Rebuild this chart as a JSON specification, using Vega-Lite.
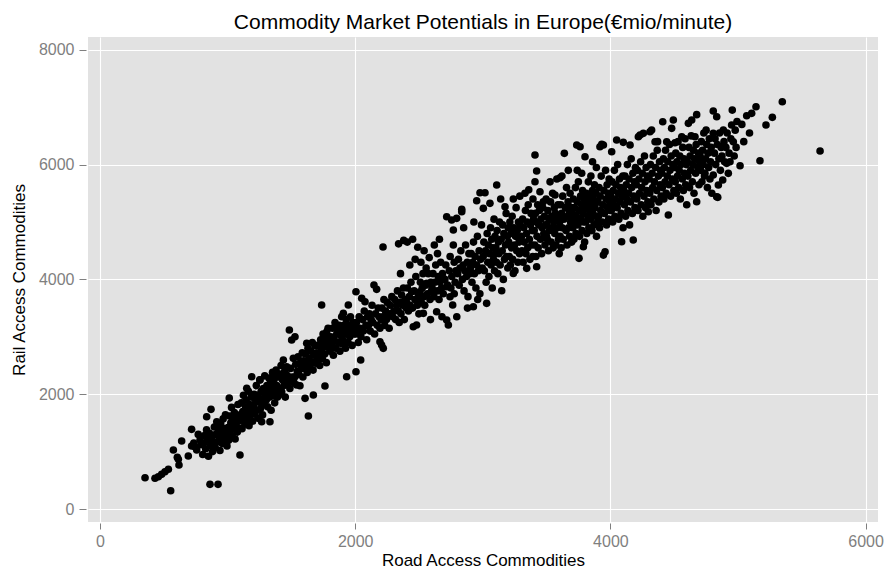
{
  "$schema": "https://vega.github.io/schema/vega-lite/v6.json",
  "width": 790,
  "height": 485,
  "autosize": {"type": "none"},
  "padding": {"left": 88, "top": 37, "right": 6, "bottom": 48},
  "background": "white",
  "config": {
    "view": {"fill": "#E2E2E2", "stroke": null},
    "font": "Liberation Sans"
  },
  "title": {
    "text": "Commodity Market Potentials in Europe(€mio/minute)",
    "fontSize": 21,
    "fontWeight": "normal",
    "color": "black",
    "anchor": "middle",
    "baseline": "bottom",
    "offset": 4,
    "dy": 21
  },
  "data": {
    "values": [
      {"road":353,"rail":545},{"road":431,"rail":535},{"road":457,"rail":563},{"road":483,"rail":604},{"road":509,"rail":650},{"road":536,"rail":692},{"road":554,"rail":319},{"road":619,"rail":766},{"road":614,"rail":866},{"road":606,"rail":901},{"road":575,"rail":1028},{"road":692,"rail":923},{"road":640,"rail":1185},{"road":718,"rail":1388},{"road":718,"rail":1097},{"road":758,"rail":1028},{"road":784,"rail":1202},{"road":862,"rail":430},{"road":925,"rail":430},{"road":1097,"rail":941},{"road":836,"rail":1608},{"road":870,"rail":1737},{"road":1013,"rail":1934},{"road":1332,"rail":1521},{"road":1267,"rail":1521},{"road":735,"rail":1150},{"road":770,"rail":1300},{"road":745,"rail":1080},{"road":790,"rail":1120},{"road":1150,"rail":2102},{"road":1189,"rail":2305},{"road":1254,"rail":2247},{"road":1356,"rail":2305},
      {"road":805,"rail":950},{"road":812,"rail":1150},{"road":820,"rail":1280},{"road":828,"rail":1050},{"road":835,"rail":1380},{"road":843,"rail":1200},{"road":850,"rail":920},{"road":858,"rail":1320},{"road":866,"rail":1100},{"road":874,"rail":1230},{"road":882,"rail":1000},{"road":890,"rail":1160},{"road":896,"rail":1430},
      {"road":903,"rail":1070},{"road":908,"rail":1300},{"road":915,"rail":1520},{"road":921,"rail":1170},{"road":927,"rail":1400},{"road":934,"rail":1250},{"road":940,"rail":1020},{"road":946,"rail":1480},{"road":952,"rail":1320},{"road":958,"rail":1140},{"road":965,"rail":1570},{"road":971,"rail":1400},{"road":977,"rail":1220},{"road":983,"rail":1640},{"road":989,"rail":1300},{"road":995,"rail":1100},
      {"road":1003,"rail":1420},{"road":1008,"rail":1200},{"road":1014,"rail":1620},{"road":1020,"rail":1340},{"road":1025,"rail":1500},{"road":1031,"rail":1770},{"road":1036,"rail":1270},{"road":1042,"rail":1560},{"road":1048,"rail":1400},{"road":1053,"rail":1680},{"road":1059,"rail":1220},{"road":1064,"rail":1470},{"road":1070,"rail":1600},{"road":1076,"rail":1340},{"road":1081,"rail":1820},{"road":1087,"rail":1530},{"road":1092,"rail":1400},{"road":1098,"rail":1640},
      {"road":1103,"rail":1560},{"road":1108,"rail":1850},{"road":1113,"rail":1400},{"road":1119,"rail":1700},{"road":1124,"rail":1980},{"road":1130,"rail":1620},{"road":1135,"rail":1480},{"road":1141,"rail":1780},{"road":1146,"rail":1900},{"road":1152,"rail":1560},{"road":1157,"rail":1690},{"road":1163,"rail":2050},{"road":1168,"rail":1450},{"road":1174,"rail":1820},{"road":1179,"rail":1640},{"road":1185,"rail":1950},{"road":1190,"rail":1720},{"road":1196,"rail":1530},
      {"road":1203,"rail":1800},{"road":1208,"rail":2000},{"road":1214,"rail":1650},{"road":1219,"rail":1900},{"road":1225,"rail":2150},{"road":1230,"rail":1720},{"road":1236,"rail":1980},{"road":1241,"rail":1580},{"road":1247,"rail":1860},{"road":1252,"rail":2250},{"road":1258,"rail":1750},{"road":1263,"rail":2050},{"road":1269,"rail":1920},{"road":1274,"rail":1640},{"road":1280,"rail":2100},{"road":1285,"rail":1830},{"road":1291,"rail":2320},{"road":1296,"rail":1980},
      {"road":1303,"rail":1900},{"road":1308,"rail":2150},{"road":1314,"rail":1780},{"road":1319,"rail":2050},{"road":1325,"rail":2280},{"road":1330,"rail":1950},{"road":1336,"rail":2200},{"road":1341,"rail":1720},{"road":1347,"rail":2100},{"road":1352,"rail":2380},{"road":1358,"rail":1980},{"road":1363,"rail":2250},{"road":1369,"rail":1850},{"road":1374,"rail":2050},{"road":1380,"rail":2420},{"road":1385,"rail":2150},{"road":1391,"rail":1950},{"road":1396,"rail":2300},
      {"road":1403,"rail":2100},{"road":1408,"rail":2350},{"road":1414,"rail":2000},{"road":1419,"rail":2500},{"road":1424,"rail":2044},{"road":1430,"rail":2250},{"road":1437,"rail":2596},{"road":1437,"rail":2247},{"road":1441,"rail":2150},{"road":1447,"rail":2400},{"road":1452,"rail":1950},{"road":1458,"rail":2300},{"road":1463,"rail":2479},{"road":1463,"rail":2334},{"road":1470,"rail":2200},{"road":1476,"rail":2305},{"road":1484,"rail":3118},{"road":1488,"rail":2100},{"road":1493,"rail":2450},{"road":1497,"rail":2250},
      {"road":1502,"rail":2944},{"road":1506,"rail":2300},{"road":1515,"rail":2625},{"road":1521,"rail":2200},{"road":1528,"rail":2305},{"road":1528,"rail":3002},{"road":1534,"rail":2520},{"road":1541,"rail":2160},{"road":1546,"rail":2400},{"road":1552,"rail":2650},{"road":1558,"rail":2350},{"road":1567,"rail":2148},{"road":1572,"rail":2550},{"road":1578,"rail":2450},{"road":1585,"rail":2720},{"road":1590,"rail":2300},{"road":1596,"rail":2580},
      {"road":1607,"rail":1928},{"road":1620,"rail":2886},{"road":1633,"rail":1620},{"road":1672,"rail":1986},{"road":1603,"rail":2450},{"road":1611,"rail":2700},{"road":1617,"rail":2550},{"road":1624,"rail":2380},{"road":1630,"rail":2800},{"road":1638,"rail":2620},{"road":1645,"rail":2480},{"road":1651,"rail":2750},{"road":1658,"rail":2560},{"road":1664,"rail":2900},{"road":1670,"rail":2420},{"road":1677,"rail":2680},{"road":1684,"rail":2850},{"road":1690,"rail":2540},{"road":1697,"rail":2720},
      {"road":1737,"rail":3554},{"road":1777,"rail":3089},{"road":1750,"rail":2944},{"road":1763,"rail":2143},{"road":1703,"rail":2600},{"road":1709,"rail":2850},{"road":1716,"rail":2700},{"road":1722,"rail":2500},{"road":1729,"rail":2950},{"road":1735,"rail":2780},{"road":1742,"rail":2620},{"road":1748,"rail":3050},{"road":1755,"rail":2850},{"road":1761,"rail":2700},{"road":1768,"rail":2980},{"road":1774,"rail":2550},{"road":1781,"rail":2820},{"road":1787,"rail":3150},{"road":1794,"rail":2900},
      {"road":1860,"rail":3148},{"road":1894,"rail":3350},{"road":1803,"rail":2750},{"road":1809,"rail":3000},{"road":1816,"rail":2850},{"road":1822,"rail":3150},{"road":1829,"rail":2680},{"road":1835,"rail":2950},{"road":1842,"rail":3250},{"road":1848,"rail":2800},{"road":1855,"rail":3050},{"road":1867,"rail":2900},{"road":1874,"rail":3200},{"road":1880,"rail":2750},{"road":1887,"rail":3020},{"road":1893,"rail":2880},{"road":1899,"rail":3100},
      {"road":1907,"rail":3409},{"road":1946,"rail":3554},{"road":1933,"rail":2305},{"road":1903,"rail":2950},{"road":1911,"rail":3200},{"road":1918,"rail":3050},{"road":1924,"rail":2800},{"road":1930,"rail":3300},{"road":1937,"rail":3100},{"road":1944,"rail":2900},{"road":1950,"rail":3200},{"road":1957,"rail":3000},{"road":1963,"rail":3350},{"road":1970,"rail":3120},{"road":1976,"rail":2850},{"road":1983,"rail":3250},{"road":1989,"rail":3050},{"road":1996,"rail":3180},
      {"road":2006,"rail":3786},{"road":2051,"rail":3670},{"road":2077,"rail":3612},{"road":2006,"rail":2392},{"road":2043,"rail":2596},{"road":2003,"rail":3050},{"road":2010,"rail":3250},{"road":2017,"rail":3100},{"road":2024,"rail":2900},{"road":2031,"rail":3350},{"road":2038,"rail":3150},{"road":2045,"rail":3000},{"road":2058,"rail":3300},{"road":2064,"rail":3100},{"road":2071,"rail":3450},{"road":2084,"rail":3200},{"road":2090,"rail":2950},{"road":2097,"rail":3350},
      {"road":2147,"rail":3902},{"road":2168,"rail":3827},{"road":2104,"rail":3200},{"road":2111,"rail":3400},{"road":2118,"rail":3100},{"road":2125,"rail":3300},{"road":2132,"rail":3550},{"road":2139,"rail":3250},{"road":2152,"rail":3050},{"road":2159,"rail":3400},{"road":2173,"rail":3200},{"road":2180,"rail":3500},{"road":2187,"rail":3350},{"road":2194,"rail":2915},{"road":2194,"rail":3150},
      {"road":2207,"rail":2857},{"road":2220,"rail":2799},{"road":2218,"rail":4564},{"road":2203,"rail":3300},{"road":2210,"rail":3500},{"road":2216,"rail":3350},{"road":2225,"rail":3650},{"road":2231,"rail":3200},{"road":2238,"rail":3450},{"road":2245,"rail":3300},{"road":2252,"rail":3600},{"road":2259,"rail":3400},{"road":2266,"rail":3150},{"road":2273,"rail":3550},{"road":2280,"rail":3400},{"road":2287,"rail":3700},{"road":2294,"rail":3350},
      {"road":2364,"rail":3728},{"road":2303,"rail":3450},{"road":2310,"rail":3650},{"road":2317,"rail":3300},{"road":2324,"rail":3550},{"road":2331,"rail":3800},{"road":2338,"rail":3450},{"road":2345,"rail":3250},{"road":2352,"rail":3600},{"road":2359,"rail":3400},{"road":2371,"rail":3550},{"road":2378,"rail":3850},{"road":2385,"rail":3300},{"road":2392,"rail":3650},{"road":2399,"rail":3500},{"road":2340,"rail":4620},{"road":2380,"rail":4680},{"road":2355,"rail":4100},
      {"road":2443,"rail":3786},{"road":2455,"rail":3176},{"road":2481,"rail":3205},{"road":2408,"rail":4650},{"road":2450,"rail":4700},{"road":2490,"rail":4560},{"road":2403,"rail":3600},{"road":2410,"rail":3850},{"road":2417,"rail":3450},{"road":2424,"rail":3700},{"road":2431,"rail":3550},{"road":2437,"rail":3950},{"road":2449,"rail":3500},{"road":2462,"rail":3800},{"road":2468,"rail":3650},{"road":2475,"rail":4050},{"road":2487,"rail":3550},{"road":2494,"rail":3750},{"road":2499,"rail":3400},{"road":2428,"rail":4250},{"road":2470,"rail":4350},
      {"road":2508,"rail":3786},{"road":2534,"rail":3409},{"road":2560,"rail":3932},{"road":2515,"rail":4300},{"road":2540,"rail":4500},{"road":2580,"rail":4380},{"road":2503,"rail":3700},{"road":2511,"rail":3950},{"road":2518,"rail":3600},{"road":2525,"rail":3850},{"road":2531,"rail":4100},{"road":2538,"rail":3700},{"road":2545,"rail":3550},{"road":2552,"rail":3900},{"road":2566,"rail":3750},{"road":2573,"rail":4100},{"road":2586,"rail":3650},{"road":2593,"rail":3950},{"road":2599,"rail":3800},{"road":2590,"rail":3300},{"road":2556,"rail":4200},
      {"road":2638,"rail":3437},{"road":2603,"rail":3850},{"road":2610,"rail":4100},{"road":2617,"rail":3700},{"road":2624,"rail":3950},{"road":2631,"rail":4250},{"road":2644,"rail":3800},{"road":2651,"rail":4050},{"road":2657,"rail":3650},{"road":2664,"rail":3950},{"road":2670,"rail":4300},{"road":2677,"rail":3850},{"road":2684,"rail":4100},{"road":2690,"rail":3750},{"road":2697,"rail":4000},{"road":2620,"rail":4600},{"road":2660,"rail":4700},{"road":2680,"rail":3350},{"road":2645,"rail":4450},
      {"road":2717,"rail":3292},{"road":2730,"rail":3205},{"road":2764,"rail":3554},{"road":2796,"rail":3350},{"road":2717,"rail":3873},{"road":2717,"rail":5092},{"road":2756,"rail":5034},{"road":2769,"rail":4860},{"road":2795,"rail":5064},{"road":2703,"rail":4000},{"road":2710,"rail":4250},{"road":2724,"rail":3900},{"road":2737,"rail":4150},{"road":2744,"rail":4400},{"road":2750,"rail":3850},{"road":2757,"rail":4050},{"road":2776,"rail":4300},{"road":2783,"rail":3950},{"road":2789,"rail":4150},{"road":2776,"rail":3750},{"road":2743,"rail":3698},{"road":2769,"rail":4600},
      {"road":2835,"rail":5179},{"road":2835,"rail":5221},{"road":2803,"rail":4100},{"road":2809,"rail":4350},{"road":2815,"rail":3900},{"road":2821,"rail":4200},{"road":2828,"rail":4500},{"road":2840,"rail":4000},{"road":2846,"rail":4250},{"road":2853,"rail":3800},{"road":2859,"rail":4150},{"road":2865,"rail":4600},{"road":2872,"rail":4050},{"road":2878,"rail":4300},{"road":2884,"rail":3700},{"road":2891,"rail":4450},{"road":2897,"rail":4100},{"road":2850,"rail":4900},{"road":2880,"rail":3500},
      {"road":2903,"rail":4200},{"road":2909,"rail":4450},{"road":2915,"rail":3950},{"road":2921,"rail":4300},{"road":2926,"rail":3524},{"road":2927,"rail":4650},{"road":2934,"rail":4100},{"road":2940,"rail":4400},{"road":2946,"rail":3850},{"road":2952,"rail":5371},{"road":2952,"rail":4250},{"road":2958,"rail":4750},{"road":2965,"rail":4150},{"road":2971,"rail":4500},{"road":2977,"rail":3750},{"road":2978,"rail":5510},{"road":2983,"rail":4350},{"road":2990,"rail":4950},{"road":2996,"rail":4200},{"road":2930,"rail":5000},{"road":2960,"rail":3650},
      {"road":3017,"rail":5510},{"road":3004,"rail":5238},{"road":3030,"rail":3583},{"road":3056,"rail":5325},{"road":3003,"rail":4400},{"road":3008,"rail":4650},{"road":3012,"rail":4150},{"road":3021,"rail":4500},{"road":3026,"rail":3950},{"road":3034,"rail":4800},{"road":3039,"rail":4300},{"road":3043,"rail":4600},{"road":3048,"rail":4050},{"road":3052,"rail":4450},{"road":3061,"rail":4900},{"road":3065,"rail":4250},{"road":3070,"rail":4700},{"road":3074,"rail":3850},{"road":3079,"rail":4550},{"road":3083,"rail":4350},{"road":3088,"rail":5050},{"road":3092,"rail":4150},{"road":3096,"rail":4750},{"road":3099,"rail":4450},
      {"road":3109,"rail":5644},{"road":3140,"rail":5400},{"road":3148,"rail":3803},{"road":3174,"rail":5266},{"road":3103,"rail":4550},{"road":3107,"rail":4300},{"road":3112,"rail":4850},{"road":3118,"rail":4100},{"road":3122,"rail":4650},{"road":3127,"rail":4450},{"road":3131,"rail":5000},{"road":3136,"rail":4250},{"road":3144,"rail":4700},{"road":3152,"rail":4500},{"road":3156,"rail":4950},{"road":3161,"rail":4000},{"road":3165,"rail":4800},{"road":3170,"rail":4350},{"road":3178,"rail":4600},{"road":3183,"rail":5150},{"road":3187,"rail":4400},{"road":3192,"rail":4750},{"road":3196,"rail":4200},{"road":3199,"rail":4900},
      {"road":3239,"rail":5400},{"road":3239,"rail":4105},{"road":3290,"rail":5450},{"road":3203,"rail":4650},{"road":3207,"rail":4400},{"road":3212,"rail":5000},{"road":3216,"rail":4250},{"road":3221,"rail":4800},{"road":3225,"rail":4550},{"road":3230,"rail":5100},{"road":3234,"rail":4350},{"road":3243,"rail":4900},{"road":3248,"rail":4600},{"road":3252,"rail":4150},{"road":3257,"rail":4750},{"road":3261,"rail":5250},{"road":3266,"rail":4500},{"road":3270,"rail":4850},{"road":3275,"rail":4300},{"road":3279,"rail":5000},{"road":3284,"rail":4650},{"road":3288,"rail":4450},{"road":3293,"rail":4950},{"road":3297,"rail":4700},
      {"road":3344,"rail":4193},{"road":3393,"rail":5400},{"road":3330,"rail":5500},{"road":3360,"rail":5560},{"road":3303,"rail":4750},{"road":3307,"rail":4500},{"road":3312,"rail":5050},{"road":3316,"rail":4300},{"road":3321,"rail":4900},{"road":3325,"rail":4650},{"road":3334,"rail":5200},{"road":3338,"rail":4450},{"road":3343,"rail":4800},{"road":3347,"rail":5000},{"road":3352,"rail":4550},{"road":3356,"rail":5300},{"road":3365,"rail":4700},{"road":3369,"rail":4350},{"road":3374,"rail":4950},{"road":3378,"rail":5150},{"road":3383,"rail":4600},{"road":3387,"rail":4850},{"road":3392,"rail":4400},{"road":3397,"rail":5050},
      {"road":3409,"rail":6167},{"road":3422,"rail":5888},{"road":3409,"rail":5702},{"road":3422,"rail":4221},{"road":3448,"rail":5527},{"road":3474,"rail":5353},{"road":3403,"rail":4850},{"road":3407,"rail":4600},{"road":3412,"rail":5150},{"road":3416,"rail":4400},{"road":3421,"rail":5000},{"road":3425,"rail":4750},{"road":3430,"rail":5300},{"road":3434,"rail":4550},{"road":3439,"rail":4950},{"road":3443,"rail":5200},{"road":3452,"rail":4700},{"road":3456,"rail":5050},{"road":3461,"rail":4450},{"road":3465,"rail":4900},{"road":3470,"rail":5250},{"road":3478,"rail":4800},{"road":3483,"rail":5100},{"road":3487,"rail":4600},{"road":3492,"rail":4950},{"road":3496,"rail":5400},{"road":3499,"rail":4750},
      {"road":3527,"rail":5700},{"road":3566,"rail":5470},{"road":3580,"rail":5750},{"road":3605,"rail":5770},{"road":3503,"rail":4950},{"road":3506,"rail":4700},{"road":3510,"rail":5200},{"road":3514,"rail":4500},{"road":3518,"rail":5050},{"road":3522,"rail":4850},{"road":3531,"rail":5350},{"road":3535,"rail":4650},{"road":3539,"rail":5100},{"road":3543,"rail":4900},{"road":3547,"rail":5500},{"road":3551,"rail":4550},{"road":3556,"rail":5000},{"road":3560,"rail":5250},{"road":3564,"rail":4800},{"road":3569,"rail":5150},{"road":3573,"rail":4600},{"road":3577,"rail":5050},{"road":3585,"rail":4900},{"road":3589,"rail":5300},{"road":3593,"rail":4700},{"road":3597,"rail":5100},{"road":3599,"rail":4450},
      {"road":3639,"rail":6196},{"road":3602,"rail":5000},{"road":3606,"rail":4750},{"road":3610,"rail":5300},{"road":3614,"rail":4550},{"road":3618,"rail":5150},{"road":3622,"rail":4900},{"road":3626,"rail":5450},{"road":3630,"rail":4700},{"road":3635,"rail":5050},{"road":3648,"rail":5250},{"road":3652,"rail":4850},{"road":3656,"rail":5600},{"road":3660,"rail":4600},{"road":3664,"rail":5100},{"road":3668,"rail":5350},{"road":3672,"rail":4900},{"road":3676,"rail":5200},{"road":3680,"rail":4750},{"road":3684,"rail":5500},{"road":3688,"rail":5000},{"road":3692,"rail":5250},{"road":3696,"rail":4650},{"road":3699,"rail":5100},{"road":3620,"rail":5800},{"road":3670,"rail":5900},
      {"road":3736,"rail":6341},{"road":3762,"rail":6312},{"road":3754,"rail":4367},{"road":3788,"rail":4570},{"road":3801,"rail":6137},{"road":3702,"rail":5150},{"road":3706,"rail":4900},{"road":3710,"rail":5400},{"road":3714,"rail":4700},{"road":3718,"rail":5250},{"road":3722,"rail":5000},{"road":3726,"rail":5600},{"road":3730,"rail":4800},{"road":3734,"rail":5100},{"road":3741,"rail":5350},{"road":3745,"rail":4950},{"road":3749,"rail":5700},{"road":3753,"rail":5200},{"road":3758,"rail":4750},{"road":3766,"rail":5450},{"road":3770,"rail":5050},{"road":3774,"rail":5300},{"road":3778,"rail":4850},{"road":3782,"rail":5550},{"road":3786,"rail":5150},{"road":3790,"rail":5000},{"road":3794,"rail":5400},{"road":3798,"rail":4650},{"road":3740,"rail":5900},{"road":3775,"rail":5850},
      {"road":3803,"rail":5250},{"road":3807,"rail":5000},{"road":3811,"rail":5500},{"road":3815,"rail":4800},{"road":3819,"rail":5350},{"road":3823,"rail":5100},{"road":3827,"rail":5700},{"road":3831,"rail":4900},{"road":3835,"rail":5200},{"road":3839,"rail":5450},{"road":3843,"rail":5050},{"road":3847,"rail":5800},{"road":3851,"rail":5300},{"road":3855,"rail":4850},{"road":3859,"rail":5550},{"road":3863,"rail":5150},{"road":3867,"rail":5400},{"road":3871,"rail":4950},{"road":3875,"rail":5650},{"road":3879,"rail":5250},{"road":3883,"rail":5100},{"road":3887,"rail":5500},{"road":3891,"rail":4750},{"road":3895,"rail":5350},{"road":3899,"rail":5000},{"road":3860,"rail":6050},{"road":3890,"rail":5950},
      {"road":3918,"rail":6312},{"road":3945,"rail":6341},{"road":3932,"rail":6352},{"road":3958,"rail":4482},{"road":3945,"rail":4424},{"road":3903,"rail":5350},{"road":3907,"rail":5100},{"road":3911,"rail":5600},{"road":3915,"rail":4900},{"road":3920,"rail":5450},{"road":3924,"rail":5200},{"road":3928,"rail":5800},{"road":3936,"rail":5000},{"road":3940,"rail":5300},{"road":3949,"rail":5550},{"road":3953,"rail":5150},{"road":3962,"rail":5900},{"road":3966,"rail":5400},{"road":3970,"rail":4950},{"road":3974,"rail":5650},{"road":3978,"rail":5250},{"road":3982,"rail":5500},{"road":3986,"rail":5050},{"road":3990,"rail":5750},{"road":3994,"rail":5350},{"road":3998,"rail":5200},
      {"road":4010,"rail":6224},{"road":4049,"rail":6428},{"road":4088,"rail":4657},{"road":4003,"rail":5450},{"road":4007,"rail":5200},{"road":4013,"rail":5700},{"road":4018,"rail":5000},{"road":4022,"rail":5550},{"road":4026,"rail":5300},{"road":4031,"rail":5900},{"road":4035,"rail":5100},{"road":4040,"rail":5400},{"road":4044,"rail":5650},{"road":4053,"rail":5250},{"road":4057,"rail":6000},{"road":4062,"rail":5500},{"road":4066,"rail":5050},{"road":4071,"rail":5750},{"road":4075,"rail":5350},{"road":4080,"rail":5600},{"road":4084,"rail":5150},{"road":4093,"rail":5450},{"road":4097,"rail":5800},{"road":4099,"rail":4900},
      {"road":4101,"rail":6388},{"road":4154,"rail":6341},{"road":4179,"rail":4686},{"road":4105,"rail":5550},{"road":4110,"rail":5300},{"road":4114,"rail":5800},{"road":4119,"rail":5100},{"road":4124,"rail":5650},{"road":4128,"rail":5400},{"road":4133,"rail":6000},{"road":4137,"rail":5200},{"road":4142,"rail":5500},{"road":4146,"rail":5750},{"road":4150,"rail":4950},{"road":4158,"rail":5350},{"road":4163,"rail":6100},{"road":4167,"rail":5600},{"road":4172,"rail":5150},{"road":4176,"rail":5850},{"road":4183,"rail":5450},{"road":4188,"rail":5700},{"road":4192,"rail":5250},{"road":4196,"rail":5950},
      {"road":4219,"rail":6485},{"road":4258,"rail":6545},{"road":4232,"rail":6515},{"road":4297,"rail":5179},{"road":4203,"rail":5650},{"road":4207,"rail":5400},{"road":4212,"rail":5900},{"road":4216,"rail":5200},{"road":4224,"rail":5750},{"road":4228,"rail":5500},{"road":4237,"rail":6050},{"road":4241,"rail":5300},{"road":4245,"rail":5600},{"road":4250,"rail":5850},{"road":4254,"rail":5100},{"road":4263,"rail":5450},{"road":4267,"rail":6150},{"road":4271,"rail":5700},{"road":4276,"rail":5250},{"road":4280,"rail":5950},{"road":4285,"rail":5550},{"road":4289,"rail":5800},{"road":4293,"rail":5350},
      {"road":4310,"rail":6573},{"road":4323,"rail":6602},{"road":4350,"rail":6398},{"road":4370,"rail":6400},{"road":4304,"rail":5750},{"road":4308,"rail":5500},{"road":4314,"rail":6000},{"road":4318,"rail":5300},{"road":4327,"rail":5850},{"road":4331,"rail":5600},{"road":4336,"rail":6150},{"road":4340,"rail":5400},{"road":4345,"rail":5700},{"road":4354,"rail":5950},{"road":4358,"rail":5200},{"road":4363,"rail":5550},{"road":4367,"rail":6250},{"road":4376,"rail":5800},{"road":4380,"rail":5350},{"road":4385,"rail":6050},{"road":4389,"rail":5650},{"road":4393,"rail":5900},{"road":4397,"rail":5450},
      {"road":4410,"rail":6747},{"road":4441,"rail":6398},{"road":4454,"rail":5121},{"road":4480,"rail":6632},{"road":4493,"rail":6776},{"road":4506,"rail":6380},{"road":4403,"rail":5850},{"road":4407,"rail":5600},{"road":4415,"rail":6100},{"road":4419,"rail":5400},{"road":4423,"rail":5950},{"road":4428,"rail":5700},{"road":4432,"rail":6250},{"road":4437,"rail":5500},{"road":4446,"rail":5800},{"road":4450,"rail":6050},{"road":4459,"rail":5650},{"road":4463,"rail":6350},{"road":4467,"rail":5900},{"road":4472,"rail":5450},{"road":4476,"rail":6150},{"road":4485,"rail":5750},{"road":4489,"rail":6000},{"road":4497,"rail":5550},
      {"road":4559,"rail":6485},{"road":4503,"rail":5950},{"road":4508,"rail":5700},{"road":4512,"rail":6200},{"road":4517,"rail":5500},{"road":4521,"rail":6050},{"road":4526,"rail":5800},{"road":4530,"rail":6400},{"road":4535,"rail":5600},{"road":4539,"rail":5900},{"road":4544,"rail":6150},{"road":4548,"rail":5400},{"road":4553,"rail":6000},{"road":4563,"rail":5750},{"road":4567,"rail":6300},{"road":4572,"rail":5550},{"road":4576,"rail":6100},{"road":4581,"rail":5850},{"road":4585,"rail":6450},{"road":4590,"rail":5650},{"road":4594,"rail":6000},{"road":4598,"rail":5300},
      {"road":4611,"rail":6719},{"road":4637,"rail":6776},{"road":4663,"rail":6485},{"road":4676,"rail":6870},{"road":4676,"rail":5353},{"road":4603,"rail":6050},{"road":4607,"rail":5800},{"road":4616,"rail":6300},{"road":4620,"rail":5600},{"road":4625,"rail":6150},{"road":4629,"rail":5900},{"road":4633,"rail":6500},{"road":4642,"rail":5700},{"road":4646,"rail":6000},{"road":4651,"rail":6250},{"road":4655,"rail":5500},{"road":4659,"rail":6100},{"road":4668,"rail":5850},{"road":4672,"rail":6350},{"road":4685,"rail":5950},{"road":4689,"rail":6200},{"road":4694,"rail":5650},{"road":4698,"rail":6050},
      {"road":4741,"rail":5848},{"road":4750,"rail":6600},{"road":4703,"rail":6150},{"road":4708,"rail":5900},{"road":4713,"rail":6400},{"road":4717,"rail":5700},{"road":4722,"rail":6250},{"road":4727,"rail":6000},{"road":4732,"rail":6550},{"road":4737,"rail":5800},{"road":4746,"rail":6100},{"road":4755,"rail":6350},{"road":4760,"rail":5600},{"road":4765,"rail":6200},{"road":4770,"rail":5950},{"road":4775,"rail":6450},{"road":4780,"rail":5750},{"road":4785,"rail":6050},{"road":4790,"rail":6300},{"road":4795,"rail":5500},
      {"road":4806,"rail":6933},{"road":4833,"rail":6834},{"road":4806,"rail":5818},{"road":4841,"rail":5430},{"road":4846,"rail":5644},{"road":4880,"rail":5731},{"road":4806,"rail":6545},{"road":4885,"rail":6602},{"road":4833,"rail":5440},{"road":4815,"rail":6200},{"road":4820,"rail":6450},{"road":4825,"rail":6000},{"road":4838,"rail":6350},{"road":4850,"rail":6100},{"road":4855,"rail":6550},{"road":4862,"rail":5900},{"road":4868,"rail":6300},{"road":4874,"rail":6150},{"road":4890,"rail":6400},{"road":4895,"rail":6050},
      {"road":4924,"rail":5848},{"road":4955,"rail":6950},{"road":4963,"rail":6398},{"road":4950,"rail":6689},{"road":4911,"rail":6022},{"road":4937,"rail":6050},{"road":4905,"rail":6300},{"road":4915,"rail":6550},{"road":4930,"rail":6200},{"road":4944,"rail":6450},{"road":4970,"rail":6150},{"road":4978,"rail":6600},{"road":4985,"rail":6300},{"road":4992,"rail":6750},
      {"road":5016,"rail":5980},{"road":5068,"rail":6851},{"road":5107,"rail":6893},{"road":5141,"rail":7008},{"road":5347,"rail":7095},{"road":5269,"rail":6823},{"road":5219,"rail":6689},{"road":5172,"rail":6068},{"road":5643,"rail":6236},{"road":5030,"rail":6700},{"road":5045,"rail":6400},{"road":5090,"rail":6550}
    ]
  },
  "mark": {"type": "circle", "size": 58, "color": "black", "opacity": 1},
  "encoding": {
    "x": {
      "field": "road",
      "type": "quantitative",
      "scale": {"domain": [-94, 6097], "nice": false, "zero": false},
      "axis": {
        "title": "Road Access Commodities",
        "values": [0, 2000, 4000, 6000],
        "format": "d",
        "grid": true,
        "gridColor": "white",
        "gridWidth": 1.1,
        "domain": false,
        "offset": 1,
        "tickSize": 6,
        "tickColor": "#7F7F7F",
        "labelColor": "#7F7F7F",
        "labelFontSize": 16,
        "labelPadding": 4,
        "titleFontSize": 17,
        "titleFontWeight": "normal",
        "titleColor": "black",
        "titlePadding": 3
      }
    },
    "y": {
      "field": "rail",
      "type": "quantitative",
      "scale": {"domain": [-226, 8223], "nice": false, "zero": false},
      "axis": {
        "title": "Rail Access Commodities",
        "values": [0, 2000, 4000, 6000, 8000],
        "format": "d",
        "grid": true,
        "gridColor": "white",
        "gridWidth": 1.1,
        "domain": false,
        "offset": 2,
        "tickSize": 7,
        "tickColor": "#7F7F7F",
        "labelColor": "#7F7F7F",
        "labelFontSize": 16,
        "labelPadding": 5,
        "titleFontSize": 17,
        "titleFontWeight": "normal",
        "titleColor": "black",
        "titlePadding": 10
      }
    }
  }
}
